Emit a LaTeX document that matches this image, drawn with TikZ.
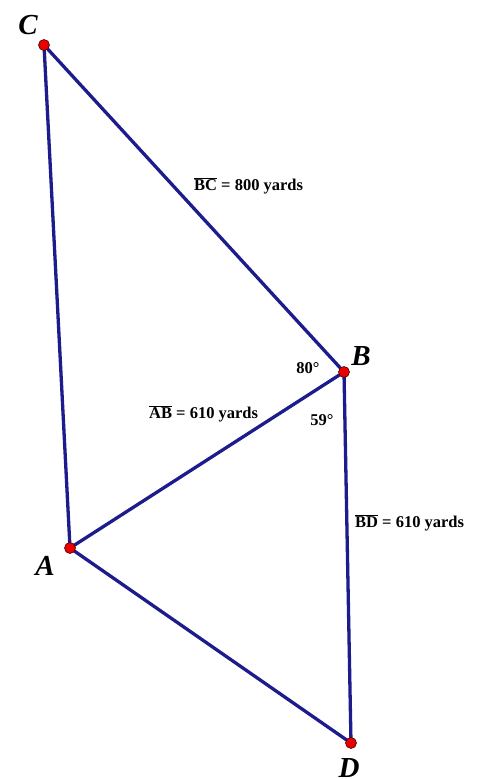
\documentclass[tikz,border=0pt]{standalone}
\usepackage{fontspec}
\setmainfont{Liberation Serif}
\definecolor{seg}{RGB}{28,28,140}
\definecolor{dot}{RGB}{235,0,0}
\begin{document}
\begin{tikzpicture}[x=1pt,y=-1pt,
  seg/.style={draw=seg,line width=3.3pt},
  pt/.style={circle,fill=dot,draw=black!70!red,line width=0.6pt,inner sep=0pt,minimum size=11pt},
  vlab/.style={font=\fontsize{29}{29}\selectfont\bfseries\itshape,inner sep=0pt},
  mlab/.style={font=\fontsize{16.5}{17}\selectfont\bfseries,inner sep=0pt,anchor=west},
  alab/.style={font=\fontsize{16.5}{17}\selectfont\bfseries,inner sep=0pt}]
\useasboundingbox (0,0) rectangle (480,779);
\coordinate (C) at (44,45);
\coordinate (B) at (344,372);
\coordinate (A) at (70,548);
\coordinate (D) at (351,743);
\draw[seg,line join=round] (C) -- (B) -- (D) -- (A) -- cycle;
\draw[seg] (A) -- (B);
\node[pt] (pC) at (C) {};
\node[pt] (pB) at (B) {};
\node[pt] (pA) at (A) {};
\node[pt] (pD) at (D) {};
\node[vlab] (lC) at (28,25) {C};
\node[vlab] (lB) at (361,356) {B};
\node[vlab] (lA) at (45,566) {A};
\node[vlab] (lD) at (349,768) {D};
\node[mlab] (mBC) at (194,186) {$\overline{\mbox{BC}}$ = 800 yards};
\node[mlab] (mAB) at (149,414) {$\overline{\mbox{AB}}$ = 610 yards};
\node[mlab] (mBD) at (355,523) {$\overline{\mbox{BD}}$ = 610 yards};
\node[alab] (a80) at (308,368) {80°};
\node[alab] (a59) at (322,420) {59°};
\end{tikzpicture}
\end{document}
